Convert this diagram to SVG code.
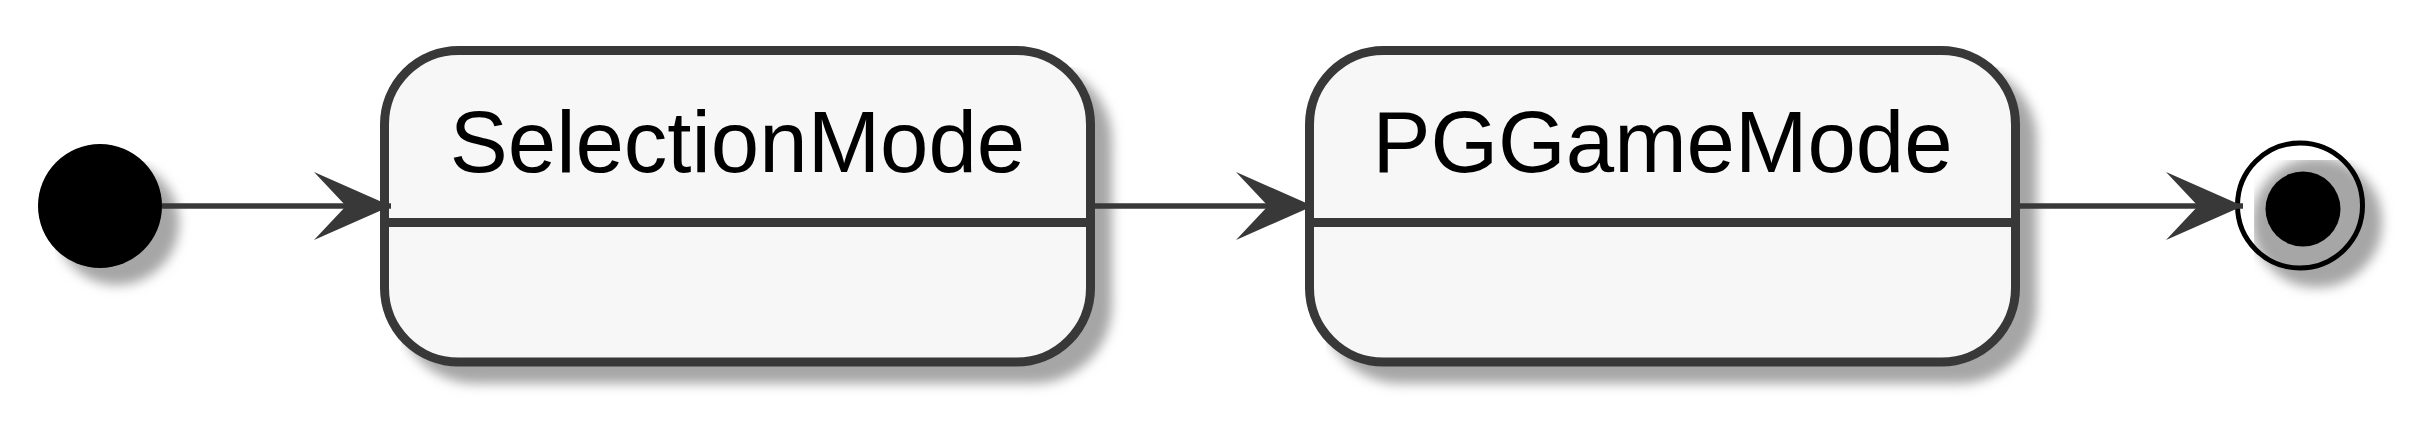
<svg xmlns="http://www.w3.org/2000/svg" width="2431" height="431" viewBox="0 0 2431 431">
  <style>
    .shadow { fill: #a6a6a6; stroke: #a6a6a6; filter: url(#sh); }
    .state { fill: #F7F7F7; stroke: #383838; stroke-width: 9; }
    .divider { stroke: #383838; stroke-width: 9; fill: none; }
    .label { font-family: "Liberation Sans", Arial, sans-serif; font-size: 87px; fill: #000000; text-anchor: middle; }
    .edge { stroke: #383838; stroke-width: 5.6; fill: none; marker-end: url(#arrow); }
  </style>
  <defs>
    <filter id="sh" x="0" y="0" width="1.35" height="1.35">
      <feGaussianBlur stdDeviation="6"/>
    </filter>
    <marker id="arrow" markerUnits="userSpaceOnUse" viewBox="-80 -36 84 72" markerWidth="84" markerHeight="72" refX="0" refY="0" orient="auto">
      <path d="M0,0 L-77,-34 L-45,0 L-77,34 Z" fill="#383838"/>
    </marker>
  </defs>
  <rect x="0" y="0" width="2431" height="431" fill="#FFFFFF"/>

  <g id="start">
    <circle class="shadow" cx="117" cy="223" r="62" stroke-width="0"/>
    <circle cx="100" cy="206" r="62" fill="#000000"/>
  </g>

  <g id="SelectionMode">
    <rect class="shadow" x="401.5" y="67.5" width="706" height="311.5" rx="74" ry="74" stroke-width="9"/>
    <rect class="state" x="384.5" y="50.5" width="706" height="311.5" rx="74" ry="74"/>
    <line class="divider" x1="384.5" y1="222.5" x2="1090.5" y2="222.5"/>
    <text class="label" x="737.5" y="172">SelectionMode</text>
  </g>

  <g id="PGGameMode">
    <rect class="shadow" x="1326.5" y="67.5" width="706" height="311.5" rx="74" ry="74" stroke-width="9"/>
    <rect class="state" x="1309.5" y="50.5" width="706" height="311.5" rx="74" ry="74"/>
    <line class="divider" x1="1309.5" y1="222.5" x2="2015.5" y2="222.5"/>
    <text class="label" x="1662.5" y="172">PGGameMode</text>
  </g>

  <g id="end">
    <circle class="shadow" cx="2317" cy="222.5" r="62.5" stroke-width="5"/>
    <circle cx="2300" cy="205.5" r="62.5" fill="none" stroke="#000000" stroke-width="5"/>
    <circle cx="2303" cy="209" r="37.5" fill="#000000"/>
  </g>

  <g id="connectors">
    <path class="edge" d="M162,206 L391,206"/>
    <path class="edge" d="M1095,206 L1313,206"/>
    <path class="edge" d="M2020,206 L2243,206"/>
  </g>
</svg>
